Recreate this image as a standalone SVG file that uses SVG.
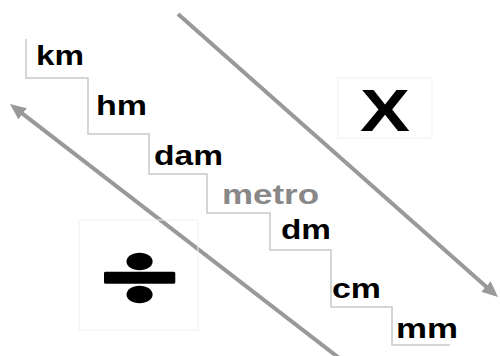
<svg xmlns="http://www.w3.org/2000/svg" width="500" height="356" viewBox="0 0 500 356">
<style>
.u{font-family:"Liberation Sans",Arial,sans-serif;font-weight:bold;font-size:28px;fill:#000}
.g{fill:#888}
.stair{fill:none;stroke:#c8c8c8;stroke-width:1.5}
.arr{stroke:#999;stroke-width:4;fill:none}
.box{fill:none;stroke:#f0f0f0;stroke-width:1}
.sym{font-family:"Liberation Sans",Arial,sans-serif;font-weight:bold;fill:#000}
.div{font-family:Lato,"Liberation Sans",sans-serif;font-weight:900;fill:#000;stroke:#000;stroke-width:3;stroke-linejoin:round}
</style>
<defs>
<marker id="ah" markerUnits="userSpaceOnUse" markerWidth="18" markerHeight="16" refX="6" refY="7" orient="auto">
<path d="M0,0 L16,7 L0,14 z" fill="#999"/>
</marker>
</defs>
<rect width="500" height="356" fill="#fff"/>
<g id="connectors">
<line class="arr" x1="178" y1="14" x2="490.5" y2="290.4" marker-end="url(#ah)"/>
<line class="arr" x1="343" y1="361" x2="17.9" y2="110.1" marker-end="url(#ah)"/>
</g>
<g id="stairs">
<path class="stair" d="M26,39 V78 H88 V134 H149 V174 H207 V213 H270 V250 H331 V307 H392 V345 H450"/>
</g>
<g id="km"><text class="u" x="36" y="65" textLength="48" lengthAdjust="spacingAndGlyphs">km</text></g>
<g id="hm"><text class="u" x="96" y="115" textLength="51" lengthAdjust="spacingAndGlyphs">hm</text></g>
<g id="dam"><text class="u" x="154" y="165" textLength="69" lengthAdjust="spacingAndGlyphs">dam</text></g>
<g id="metro"><text class="u g" x="222" y="204" textLength="97" lengthAdjust="spacingAndGlyphs">metro</text></g>
<g id="dm"><text class="u" x="281" y="239" textLength="50" lengthAdjust="spacingAndGlyphs">dm</text></g>
<g id="cm"><text class="u" x="332" y="298" textLength="49" lengthAdjust="spacingAndGlyphs">cm</text></g>
<g id="mm"><text class="u" x="396" y="338" textLength="62" lengthAdjust="spacingAndGlyphs">mm</text></g>
<g id="multiply">
<rect class="box" x="338" y="78" width="94" height="60"/>
<text class="sym" font-size="59" text-anchor="middle" transform="translate(385,130.5) scale(1.27,1)">X</text>
</g>
<g id="divide">
<rect class="box" x="79" y="220" width="119" height="110"/>
<text class="div" font-size="110" text-anchor="middle" transform="translate(139.5,308.5) scale(1.25,0.85)">÷</text>
</g>
</svg>
